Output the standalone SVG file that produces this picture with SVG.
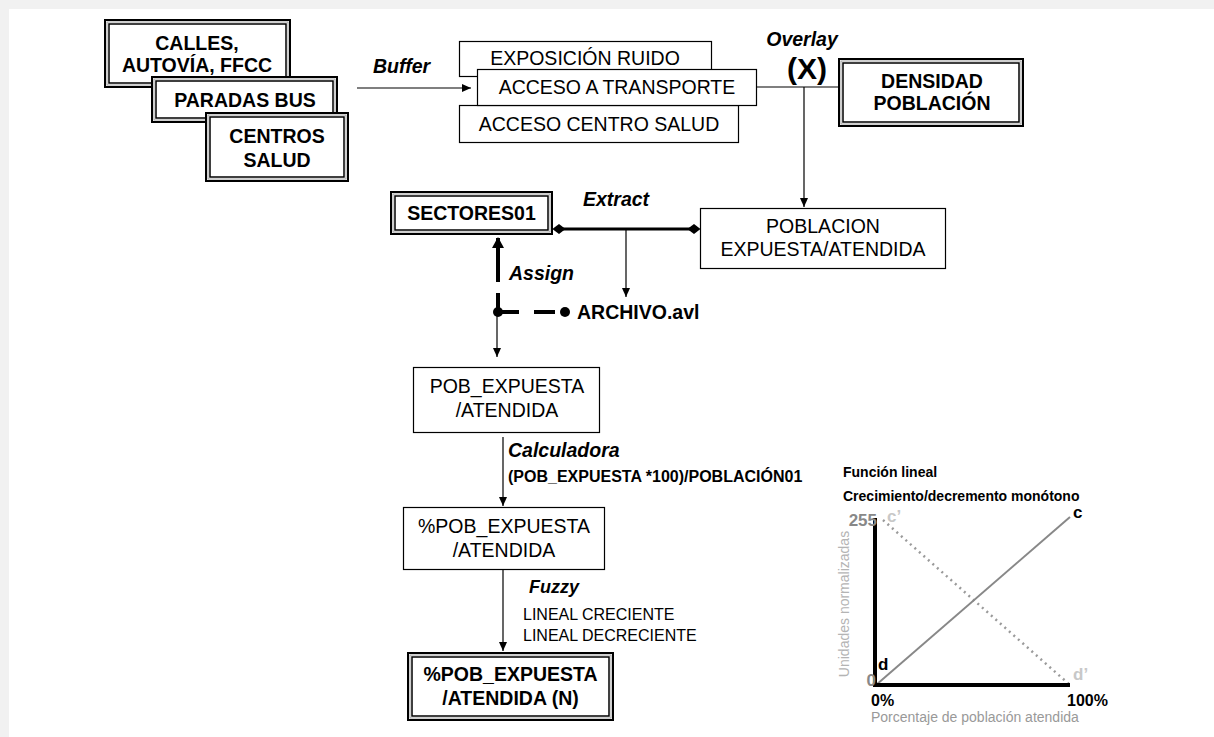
<svg xmlns="http://www.w3.org/2000/svg" width="1214" height="737" viewBox="0 0 1214 737">
<style>
text{font-family:"Liberation Sans",Arial,sans-serif;fill:#000}
.r{font-size:19.5px}
.b{font-size:19.5px;font-weight:bold}
.bi{font-size:19.5px;font-weight:bold;font-style:italic}
.c{text-anchor:middle}
.box{fill:#fff;stroke:#000;stroke-width:1.2}
.dO{fill:#fff;stroke:#000;stroke-width:2}
.dG{fill:none;stroke:#a0a0a0;stroke-width:1}
.dI{fill:none;stroke:#000;stroke-width:1.5}
.ln{fill:none;stroke:#000;stroke-width:1.2}
.thick{fill:none;stroke:#000;stroke-width:4}
.ch{font-size:17px;font-weight:bold}
</style>
<defs>
<marker id="ah" markerUnits="userSpaceOnUse" markerWidth="10" markerHeight="8" refX="9" refY="4" orient="auto"><path d="M0,0 L9,4 L0,8 z" fill="#000"/></marker>
<marker id="ahT" markerUnits="userSpaceOnUse" markerWidth="12" markerHeight="12" refX="10" refY="6" orient="auto"><path d="M0,0 L11,6 L0,12 z" fill="#000"/></marker>
<marker id="dia" markerUnits="userSpaceOnUse" markerWidth="13" markerHeight="11" refX="6.5" refY="5.5" orient="auto"><path d="M0,5.5 L6.5,0.5 L13,5.5 L6.5,10.5 z" fill="#000"/></marker>
</defs>
<rect x="0" y="0" width="1214" height="737" fill="#f1f1f1"/>
<rect x="9" y="9" width="1205" height="728" fill="#fff"/>

<g id="connectors">
<path class="ln" d="M357,88 H471" marker-end="url(#ah)"/>
<path class="ln" d="M757,87 H838"/>
<path class="ln" d="M804,87 V207" marker-end="url(#ah)"/>
<path fill="none" stroke="#000" stroke-width="3" d="M559,229 H694" marker-start="url(#dia)" marker-end="url(#dia)"/>
<path class="ln" d="M626,229 V297" marker-end="url(#ah)"/>
<path class="thick" d="M498,282 V238" marker-end="url(#ahT)"/>
<path class="thick" d="M498,293 V312 H519"/>
<path class="thick" d="M534,312 H555"/>
<circle cx="498" cy="312" r="5"/>
<circle cx="565" cy="312" r="5"/>
<path class="ln" d="M497,312 V357" marker-end="url(#ah)"/>
<path class="ln" d="M503,437 V506" marker-end="url(#ah)"/>
<path class="ln" d="M503,570 V651" marker-end="url(#ah)"/>
</g>

<g id="n-calles">
<rect class="dO" x="105" y="20" width="185" height="67"/>
<rect class="dG" x="107" y="22" width="181" height="63"/>
<rect class="dI" x="109" y="24" width="177" height="59"/>
<text class="b c" x="197" y="50">CALLES,</text>
<text class="b c" x="197" y="72">AUTOVÍA, FFCC</text>
</g>
<g id="n-paradas">
<rect class="dO" x="152" y="77" width="185" height="45"/>
<rect class="dG" x="154" y="79" width="181" height="41"/>
<rect class="dI" x="156" y="81" width="177" height="37"/>
<text class="b c" x="245" y="107">PARADAS BUS</text>
</g>
<g id="n-centros">
<rect class="dO" x="206" y="113" width="142" height="68"/>
<rect class="dG" x="208" y="115" width="138" height="64"/>
<rect class="dI" x="210" y="117" width="134" height="60"/>
<text class="b c" x="277" y="143">CENTROS</text>
<text class="b c" x="277" y="167">SALUD</text>
</g>

<g id="l-buffer"><text class="bi" x="373" y="73">Buffer</text></g>

<g id="n-exposicion">
<rect class="box" x="459.5" y="41.5" width="252" height="35"/>
<text class="r c" x="585" y="65">EXPOSICIÓN RUIDO</text>
</g>
<g id="n-centrosalud">
<rect class="box" x="459.5" y="105.5" width="279" height="37"/>
<text class="r c" x="599" y="131">ACCESO CENTRO SALUD</text>
</g>
<g id="n-transporte">
<rect class="box" x="477.5" y="69.5" width="279" height="36"/>
<text class="r c" x="617" y="94">ACCESO A TRANSPORTE</text>
</g>

<g id="l-overlay">
<text class="bi c" x="802" y="46">Overlay</text>
<text class="c" x="807" y="79" style="font-size:30px;font-weight:bold">(X)</text>
</g>

<g id="n-densidad">
<rect class="dO" x="839" y="59" width="184" height="67"/>
<rect class="dG" x="841" y="61" width="180" height="63"/>
<rect class="dI" x="843" y="63" width="176" height="59"/>
<text class="b c" x="932" y="88">DENSIDAD</text>
<text class="b c" x="932" y="110">POBLACIÓN</text>
</g>

<g id="n-poblacion">
<rect class="box" x="700.5" y="208.5" width="245" height="60"/>
<text class="r c" x="823" y="233">POBLACION</text>
<text class="r c" x="823" y="256">EXPUESTA/ATENDIDA</text>
</g>

<g id="n-sectores">
<rect class="dO" x="391" y="192" width="161" height="42"/>
<rect class="dG" x="393" y="194" width="157" height="38"/>
<rect class="dI" x="395" y="196" width="153" height="34"/>
<text class="b c" x="471.5" y="220">SECTORES01</text>
</g>

<g id="l-extract"><text class="bi" x="583" y="206">Extract</text></g>
<g id="l-assign"><text class="bi" x="509" y="280">Assign</text></g>
<g id="n-archivo"><text class="b" x="577" y="319">ARCHIVO.avl</text></g>

<g id="n-pob">
<rect class="box" x="413.5" y="367.5" width="186" height="65"/>
<text class="r c" x="507" y="393">POB_EXPUESTA</text>
<text class="r c" x="507" y="417">/ATENDIDA</text>
</g>

<g id="l-calc">
<text class="bi" x="508" y="457">Calculadora</text>
<text x="508" y="482" style="font-size:16px;font-weight:bold">(POB_EXPUESTA *100)/POBLACIÓN01</text>
</g>

<g id="n-pctpob">
<rect class="box" x="403.5" y="507.5" width="201" height="62"/>
<text class="r c" x="504" y="533">%POB_EXPUESTA</text>
<text class="r c" x="504" y="557">/ATENDIDA</text>
</g>

<g id="l-fuzzy">
<text class="bi" x="529" y="593" style="font-size:18px">Fuzzy</text>
<text x="523" y="620" style="font-size:16px">LINEAL CRECIENTE</text>
<text x="523" y="641" style="font-size:16px">LINEAL DECRECIENTE</text>
</g>

<g id="n-final">
<rect class="dO" x="408" y="653" width="205" height="67"/>
<rect class="dG" x="410" y="655" width="201" height="63"/>
<rect class="dI" x="412" y="657" width="197" height="59"/>
<text class="b c" x="510.5" y="681">%POB_EXPUESTA</text>
<text class="b c" x="510.5" y="705">/ATENDIDA (N)</text>
</g>

<g id="chart">
<text x="843" y="477" style="font-size:14px;font-weight:bold">Función lineal</text>
<text x="843" y="501" style="font-size:14px;font-weight:bold">Crecimiento/decremento monótono</text>
<line x1="883" y1="520" x2="1070" y2="685" stroke="#9a9a9a" stroke-width="2.5" stroke-dasharray="2 4"/>
<line x1="876" y1="685" x2="1070" y2="517" stroke="#888" stroke-width="2"/>
<line x1="875" y1="518" x2="875" y2="687" stroke="#000" stroke-width="4"/>
<line x1="873" y1="685" x2="1070" y2="685" stroke="#000" stroke-width="4"/>
<text class="ch" x="877" y="526" text-anchor="end" style="fill:#888">255</text>
<text class="ch" x="887" y="522" style="fill:#c8c8c8">c’</text>
<text class="ch" x="1073" y="518">c</text>
<text class="ch" x="878" y="670">d</text>
<text class="ch" x="876" y="686" text-anchor="end" style="fill:#888">0</text>
<text class="ch" x="1073" y="680" style="fill:#c8c8c8">d’</text>
<text x="871" y="706" style="font-size:16px;font-weight:bold">0%</text>
<text x="1067" y="706" style="font-size:16px;font-weight:bold">100%</text>
<text x="871" y="722" style="font-size:14px;fill:#999">Porcentaje de población atendida</text>
<text transform="translate(849,604) rotate(-90)" text-anchor="middle" style="font-size:14px;fill:#b4b4b4">Unidades normalizadas</text>
</g>
</svg>
